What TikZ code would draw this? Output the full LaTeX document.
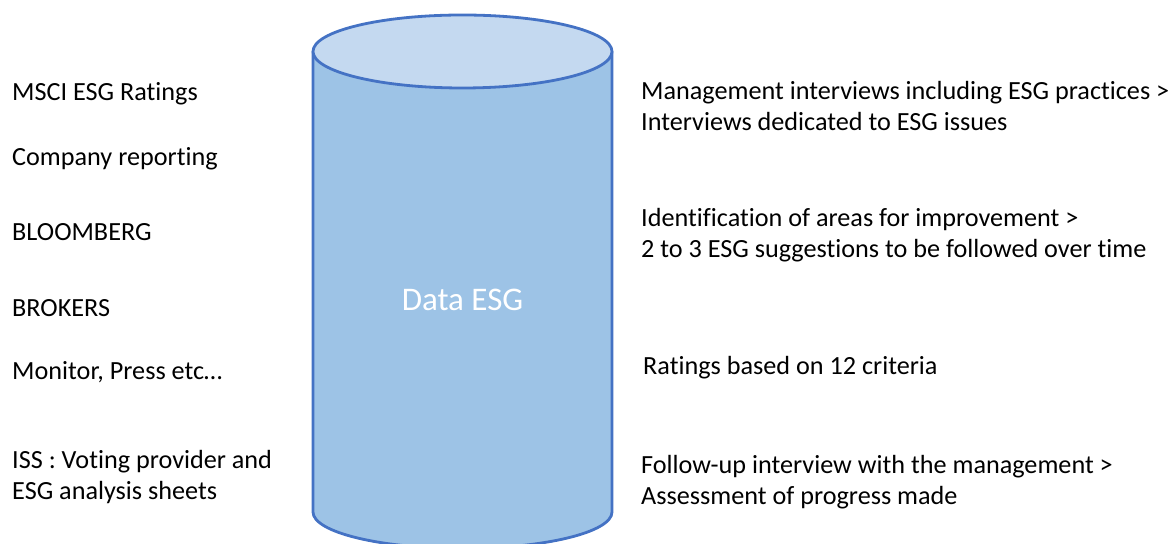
\documentclass[tikz,border=0pt]{standalone}
\usepackage{fontspec}
\setmainfont{Carlito}[Ligatures=NoCommon]
\definecolor{cylline}{HTML}{4472C4}
\definecolor{cylbody}{HTML}{9DC3E6}
\definecolor{cyltop}{HTML}{C4D9F0}
\begin{document}
\begin{tikzpicture}[x=1pt,y=1pt,
  lbl/.style={anchor=base west,inner sep=0pt,font=\fontsize{26.2}{31}\selectfont,text=black},
  title/.style={anchor=base,inner sep=0pt,font=\fontsize{33}{40}\selectfont,text=white}]
\fill[white] (0,0) rectangle (1174,543);
\useasboundingbox (0,0) rectangle (1174,543);
\begin{scope}
\clip (0,0) rectangle (1174,543);
% cylinder body
\fill[cylbody] (313,491.5) -- (313,31) arc[start angle=180,end angle=360,x radius=149.5,y radius=36.5] -- (612,491.5) -- cycle;
\draw[cylline,line width=2.8pt,line join=round] (313,491.5) -- (313,31) arc[start angle=180,end angle=360,x radius=149.5,y radius=36.5] -- (612,491.5);
% top
\draw[cylline,line width=2.8pt,fill=cyltop] (462.5,491.5) ellipse[x radius=149.5,y radius=36.5];
\end{scope}
\node[title] (data) at (462.5,232) {Data ESG};
% left column
\node[lbl] (msci) at (12,442) {MSCI ESG Ratings};
\node[lbl] (comp) at (12,377) {Company reporting};
\node[lbl] (bloom) at (12,302) {BLOOMBERG};
\node[lbl] (brok) at (12,226) {BROKERS};
\node[lbl] (mon) at (12,163) {Monitor, Press etc…};
\node[lbl] (iss1) at (12,74) {ISS : Voting provider and};
\node[lbl] (iss2) at (12,43.5) {ESG analysis sheets};
% right column
\node[lbl] (mgmt1) at (641,443) {Management interviews including ESG practices >};
\node[lbl] (mgmt2) at (641,412) {Interviews dedicated to ESG issues};
\node[lbl] (ident1) at (641,316) {Identification of areas for improvement >};
\node[lbl] (ident2) at (641,285) {2 to 3 ESG suggestions to be followed over time};
\node[lbl] (rate) at (643,168.5) {Ratings based on 12 criteria};
\node[lbl] (foll1) at (641,69) {Follow-up interview with the management >};
\node[lbl] (foll2) at (641,38.5) {Assessment of progress made};
\end{tikzpicture}
\end{document}
